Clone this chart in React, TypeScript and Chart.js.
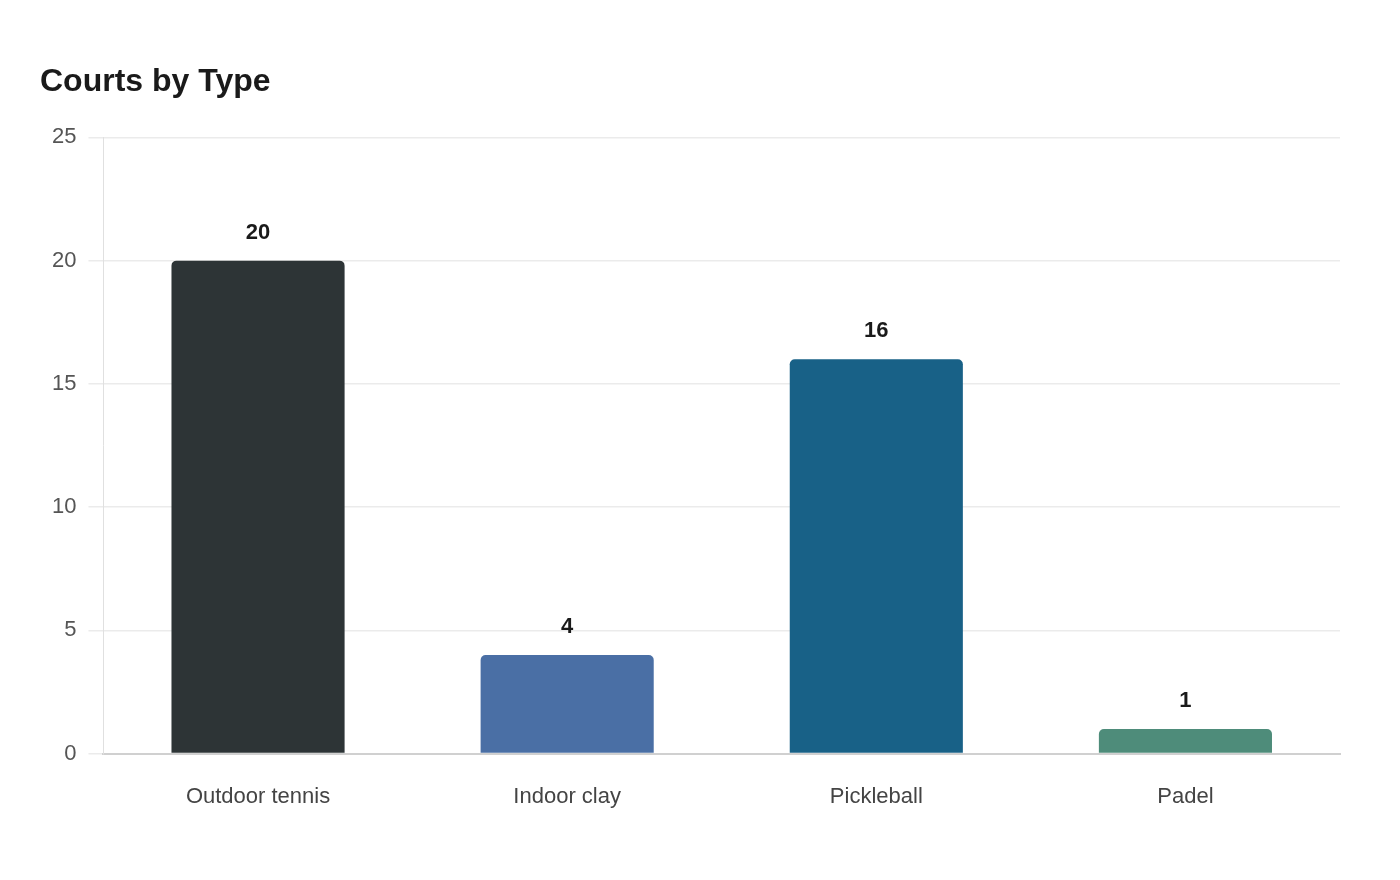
import { useEffect, useRef } from "react";
import { Chart, registerables } from "chart.js";

Chart.register(...registerables);

const categories = ["Outdoor tennis", "Indoor clay", "Pickleball", "Padel"];
const courtCounts = [20, 4, 16, 1];
const barColors = ["#2d3436", "#4a6fa5", "#186187", "#4e8c7a"];
const yTicks = [0, 5, 10, 15, 20, 25];

const FONT = "'Liberation Sans', Arial, sans-serif";

// draws the count above each bar
const valueLabels = {
  id: "valueLabels",
  afterDatasetsDraw(chart: Chart) {
    const ctx = chart.ctx;
    const meta = chart.getDatasetMeta(0);
    ctx.save();
    ctx.font = `bold 22px ${FONT}`;
    ctx.fillStyle = "#1a1a1a";
    ctx.textAlign = "center";
    ctx.textBaseline = "middle";
    meta.data.forEach((bar: any, i: number) => {
      ctx.fillText(String(courtCounts[i]), bar.x, bar.y - 28);
    });
    ctx.restore();
  },
};

export default function App() {
  const canvasRef = useRef<HTMLCanvasElement>(null);
  const chartRef = useRef<Chart | null>(null);

  useEffect(() => {
    if (!canvasRef.current) return;
    if (chartRef.current) chartRef.current.destroy();

    chartRef.current = new Chart(canvasRef.current, {
      type: "bar",
      data: {
        labels: categories,
        datasets: [
          {
            data: courtCounts,
            backgroundColor: barColors,
            borderRadius: { topLeft: 5, topRight: 5 },
            borderSkipped: "bottom",
            categoryPercentage: 0.8,
            barPercentage: 0.7,
          },
        ],
      },
      options: {
        animation: false,
        responsive: true,
        maintainAspectRatio: false,
        layout: { padding: { left: 32, right: 52, top: 0, bottom: 40 } },
        plugins: {
          legend: { display: false },
          tooltip: { enabled: false },
          title: {
            display: true,
            text: "Courts by Type",
            align: "start",
            color: "#1a1a1a",
            font: { family: FONT, size: 32, weight: "bold" },
            padding: { top: 55, bottom: 36 },
          },
        },
        scales: {
          x: {
            grid: { display: false },
            border: { color: "#d0d0d0", width: 2 },
            ticks: {
              color: "#444",
              font: { family: FONT, size: 22 },
              padding: 22,
            },
          },
          y: {
            min: 0,
            max: 25,
            afterBuildTicks: (axis: any) => {
              axis.ticks = yTicks.map((v) => ({ value: v }));
            },
            grid: { color: "#ebebeb", lineWidth: 1.5, tickLength: 15 },
            border: { color: "#e0e0e0", width: 1 },
            ticks: {
              color: "#555",
              font: { family: FONT, size: 22 },
              padding: 12,
            },
          },
        },
      },
      plugins: [valueLabels],
    });

    return () => {
      if (chartRef.current) {
        chartRef.current.destroy();
        chartRef.current = null;
      }
    };
  }, []);

  return (
    <div style={{ width: 1384, height: 864, background: "#fff" }}>
      <canvas ref={canvasRef} />
    </div>
  );
}
